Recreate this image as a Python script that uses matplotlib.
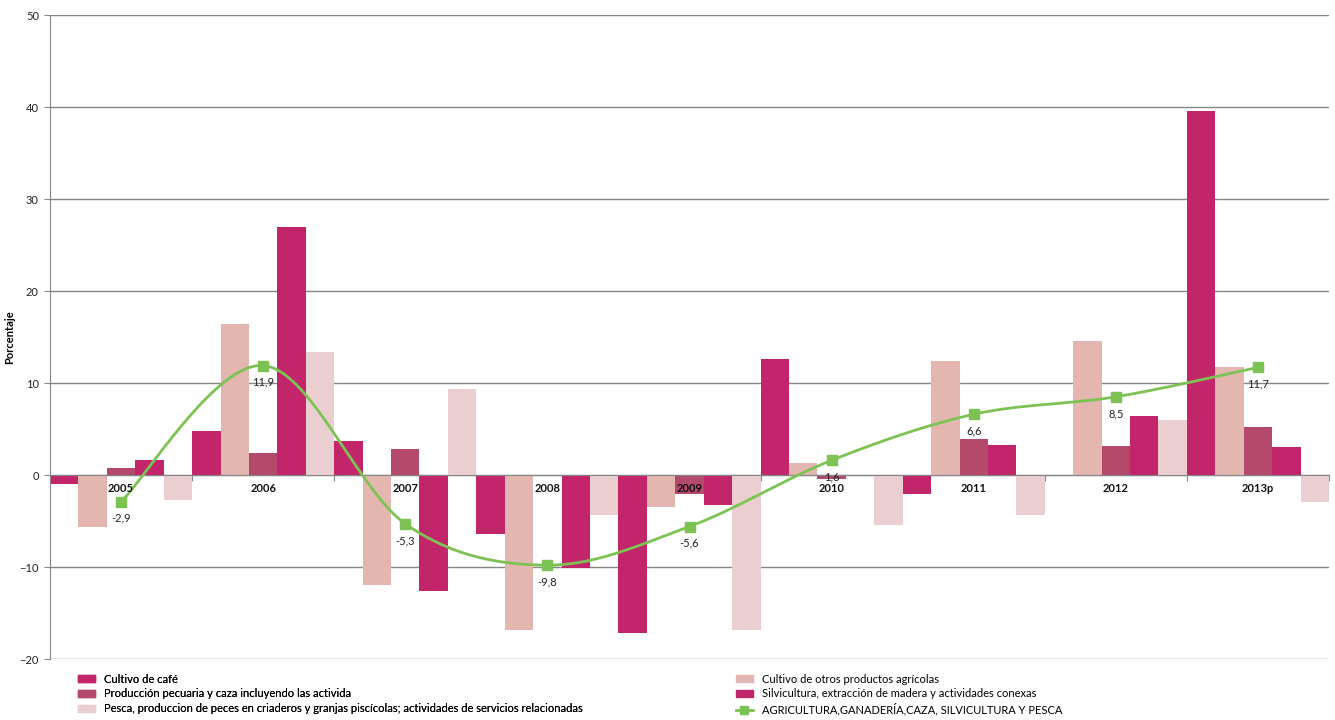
import numpy as np
import matplotlib
matplotlib.use("Agg")
import matplotlib.pyplot as plt
from matplotlib.patches import Patch
from matplotlib.lines import Line2D

plt.rcParams['font.family'] = ['Lato', 'DejaVu Sans']

# Variación anual (%) por subsector
years = ["2005", "2006", "2007", "2008", "2009", "2010", "2011", "2012", "2013p"]
cafe = [-1.0, 4.8, 3.7, -6.4, -17.2, 12.6, -2.1, 0.0, 39.6]
otros = [-5.7, 16.4, -12.0, -16.8, -3.5, 1.3, 12.4, 14.6, 11.7]
pecuaria = [0.8, 2.4, 2.8, 0.0, -2.1, -0.4, 3.9, 3.1, 5.2]
silvicultura = [1.6, 27.0, -12.6, -10.1, -3.3, 0.0, 3.3, 6.4, 3.0]
pesca = [-2.7, 13.4, 9.4, -4.4, -16.9, -5.4, -4.3, 6.0, -2.9]
total = [-2.9, 11.9, -5.3, -9.8, -5.6, 1.6, 6.6, 8.5, 11.7]

names = ["Cultivo de café",
         "Cultivo de otros productos agrícolas",
         "Producción pecuaria y caza incluyendo las activida",
         "Silvicultura, extracción de madera y actividades conexas",
         "Pesca, produccion de peces en criaderos y granjas piscícolas; actividades de servicios relacionadas"]
total_name = "AGRICULTURA,GANADERÍA,CAZA, SILVICULTURA Y PESCA"
colors = ["#C2256A", "#E3B7B0", "#B5496B", "#C2256A", "#EBCFD0"]
green = "#7DC353"


def catmull_rom(x, y, n=40):
    # curva suavizada que pasa por todos los puntos
    px = np.concatenate([[x[0]], x, [x[-1]]])
    py = np.concatenate([[y[0]], y, [y[-1]]])
    xs, ys = [], []
    t = np.linspace(0, 1, n)
    for i in range(1, len(px) - 2):
        p0 = np.array([px[i], py[i]])
        p3 = np.array([px[i + 1], py[i + 1]])
        c1 = p0 + (np.array([px[i + 1], py[i + 1]]) - np.array([px[i - 1], py[i - 1]])) / 6
        c2 = p3 - (np.array([px[i + 2], py[i + 2]]) - np.array([px[i], py[i]])) / 6
        b = ((1 - t) ** 3)[:, None] * p0 + (3 * (1 - t) ** 2 * t)[:, None] * c1 \
            + (3 * (1 - t) * t ** 2)[:, None] * c2 + (t ** 3)[:, None] * p3
        xs.append(b[:, 0])
        ys.append(b[:, 1])
    return np.concatenate(xs), np.concatenate(ys)


fig = plt.figure(figsize=(13.35, 7.2), dpi=100)
ax = fig.add_axes([50 / 1335, 61 / 720, 1279 / 1335, 644 / 720])

x = np.arange(len(years))
w = 0.2
series = [cafe, otros, pecuaria, silvicultura, pesca]
for k, (vals, c) in enumerate(zip(series, colors)):
    ax.bar(x + (k - 2) * w, vals, width=w, color=c, zorder=2)

sx, sy = catmull_rom(x.astype(float), np.array(total))
ax.plot(sx, sy, color=green, lw=2, zorder=3)
ax.plot(x, total, ls="none", marker="s", ms=7, color=green, zorder=4)
for xi, v in zip(x, total):
    ax.annotate(f"{v:.1f}".replace(".", ","), (xi, v), xytext=(0, -12),
                textcoords="offset points", ha="center", va="center",
                fontsize=8, color="#222222", zorder=5)

ax.set_xlim(-0.5, len(years) - 0.5)
ax.set_ylim(-20, 50)
ax.set_yticks(range(-20, 51, 10))
ax.yaxis.grid(True, color="#868686", lw=1)
ax.set_axisbelow(True)

# eje de categorías sobre el cero
ax.spines['bottom'].set_position(('data', 0))
ax.spines['bottom'].set_color("#868686")
ax.spines['left'].set_color("#868686")
ax.spines['top'].set_visible(False)
ax.spines['right'].set_visible(False)
ax.set_xticks(np.arange(len(years) + 1) - 0.5)
ax.set_xticklabels([])
ax.tick_params(axis="x", which="major", length=4, color="#868686", direction="out")
# etiquetas de año encima de las barras
for xi, yr in zip(x, years):
    ax.annotate(yr, (xi, 0), xytext=(0, -10), textcoords="offset points",
                ha="center", va="center", fontsize=8, fontweight="bold",
                color="#111111", zorder=6)
ax.tick_params(axis="y", length=4, color="#868686", labelsize=8,
               labelcolor="#222222", pad=4)

ax.set_ylabel("Porcentaje", fontsize=8, fontweight="bold")
ax.yaxis.set_label_coords(-35 / 1279, 0.5)

handles = [Patch(color=c) for c in colors]
line_h = Line2D([], [], color=green, lw=2, marker="s", ms=6)
leg1 = fig.legend([handles[0], handles[2], handles[4]], [names[0], names[2], names[4]],
                  loc="upper left", bbox_to_anchor=(72 / 1335, 1 - 668 / 720),
                  frameon=False, fontsize=8, handlelength=1.6, handleheight=0.6,
                  labelspacing=0.35, handletextpad=0.8, borderpad=0)
fig.legend([handles[1], handles[3], line_h], [names[1], names[3], total_name],
           loc="upper left", bbox_to_anchor=(730 / 1335, 1 - 668 / 720),
           frameon=False, fontsize=8, handlelength=1.6, handleheight=0.6,
           labelspacing=0.35, handletextpad=0.8, borderpad=0)
fig.add_artist(leg1)

fig.savefig("out.png", dpi=100)
